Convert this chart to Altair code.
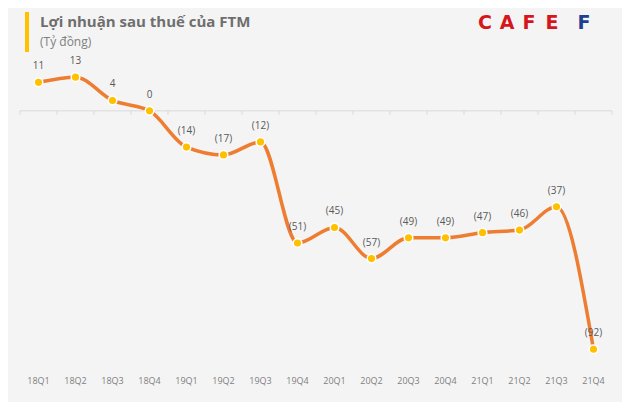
import altair as alt
import pandas as pd

quarters = ["18Q1", "18Q2", "18Q3", "18Q4", "19Q1", "19Q2", "19Q3", "19Q4",
            "20Q1", "20Q2", "20Q3", "20Q4", "21Q1", "21Q2", "21Q3", "21Q4"]
profit = [11, 13, 4, 0, -14, -17, -12, -51, -45, -57, -49, -49, -47, -46, -37, -92]
labels = [str(v) if v >= 0 else f"({abs(v)})" for v in profit]

logo_letters = ["C", "A", "F", "E", "F"]
logo_colors = ["#d7161b", "#d7161b", "#d7161b", "#d7161b", "#1c3f8f"]
logo_x = [485, 507, 529, 552, 584]

df = pd.DataFrame({"q": quarters, "v": profit, "lab": labels})
df["z0"] = 0.0
df["z1"] = -1.5
df_last = df.tail(1)

W, H = 592, 311
ydom = [-100, 20]

xscale = alt.Scale(type="band", paddingInner=0, paddingOuter=0, domain=quarters)
yscale = alt.Scale(domain=ydom, nice=False, zero=False)
xaxis = alt.Axis(title=None, domain=False, ticks=False, labelAngle=0, orient="bottom",
                 labelColor="#7f7f7f", labelFontSize=9, labelFont="Open Sans",
                 labelPadding=6, grid=False)


def X(bp):
    return alt.X("q:N", scale=xscale, sort=quarters, bandPosition=bp, axis=xaxis)


yenc = alt.Y("v:Q", scale=yscale, axis=None)

base = alt.Chart(df)

zero_line = alt.Chart(df_last).mark_rule(color="#d9d9d9", strokeWidth=1).encode(
    y=alt.Y("z0:Q", scale=yscale, axis=None), x=alt.value(0), x2=alt.value(W))

ticks = base.mark_rule(color="#d9d9d9", strokeWidth=1).encode(
    x=X(0), y=alt.Y("z0:Q", scale=yscale, axis=None), y2="z1:Q")
ticks_end = alt.Chart(df_last).mark_rule(color="#d9d9d9", strokeWidth=1).encode(
    x=X(1), y=alt.Y("z0:Q", scale=yscale, axis=None), y2="z1:Q")

line = base.mark_line(interpolate="monotone", color="#ED7D31", strokeWidth=3.5).encode(
    x=X(0.5), y=yenc)

points = base.mark_circle(size=75, color="#FFC000", opacity=1, stroke="white",
                          strokeWidth=1.5).encode(x=X(0.5), y=yenc)

text = base.mark_text(dy=-16, fontSize=10, color="#595959", font="Open Sans").encode(
    x=X(0.5), y=yenc, text="lab:N")

title_bar = alt.Chart(pd.DataFrame({"a": [0]})).mark_rule(
    color="#FFC000", strokeWidth=4).encode(
    x=alt.value(7), y=alt.value(-47), y2=alt.value(-7))

title = alt.Chart(pd.DataFrame({"t": ["Lợi nhuận sau thuế của FTM"]})).mark_text(
    align="left", baseline="middle", fontSize=15, fontWeight="bold", color="#6e6e6e",
    font="Open Sans").encode(x=alt.value(20), y=alt.value(-37), text="t:N")

subtitle = alt.Chart(pd.DataFrame({"t": ["(Tỷ đồng)"]})).mark_text(
    align="left", baseline="middle", fontSize=12, color="#7f7f7f",
    font="Open Sans").encode(x=alt.value(20), y=alt.value(-17), text="t:N")

logo_layers = []
for ch, col, lx in zip(logo_letters, logo_colors, logo_x):
    logo_layers.append(
        alt.Chart(pd.DataFrame({"t": [ch]})).mark_text(
            align="center", baseline="middle", fontSize=19, fontWeight="bold",
            color=col, font="DejaVu Sans").encode(
            x=alt.value(lx - 20), y=alt.value(-36), text="t:N"))

chart = alt.layer(line, zero_line, ticks, ticks_end, points, text, title_bar, title, subtitle,
                  *logo_layers).properties(
    width=W, height=H,
    autosize=alt.AutoSizeParams(type="none"),
    padding={"left": 12, "top": 51, "right": 10, "bottom": 32},
    background="#f4f4f4",
).configure_view(stroke=None)

chart.save("out.html", embed_options={"renderer": "svg", "actions": False})
